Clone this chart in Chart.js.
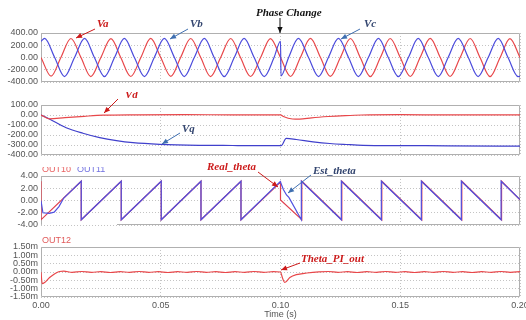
<!DOCTYPE html>
<html><head><meta charset="utf-8">
<script src="https://cdn.jsdelivr.net/npm/chart.js@4.4.1/dist/chart.umd.min.js"></script>
<style>
html,body{margin:0;padding:0;background:#fff;}
#wrap{position:relative;width:526px;height:320px;overflow:hidden;background:#fff;}
canvas{position:absolute;left:0;}
</style></head><body>
<div id="wrap">
<canvas id="c1" width="526" height="92" style="top:0px"></canvas>
<canvas id="c2" width="526" height="68" style="top:92px"></canvas>
<canvas id="c3" width="526" height="76" style="top:160px"></canvas>
<canvas id="c4" width="526" height="84" style="top:236px"></canvas>
</div>
<script>
// ---------- data (time in s) ----------
const timeTicks = [0, 0.05, 0.1, 0.15, 0.2];
const p1Ticks = [400, 200, 0, -200, -400];
const p2Ticks = [100, 0, -100, -200, -300, -400];
const p3Ticks = [4, 2, 0, -2, -4];
const p4Ticks = [1.5, 1, 0.5, 0, -0.5, -1, -1.5];

const va = [[0,0],[0.0042,-305],[0.0083,0],[0.0125,310],[0.0167,0],[0.0208,-312],[0.025,0],[0.0292,308],[0.0333,0],[0.0375,-310],[0.0417,0],[0.0458,312],[0.05,0],[0.0542,-308],[0.0583,0],[0.0625,310],[0.0667,0],[0.0708,-312],[0.075,0],[0.0792,310],[0.0833,0],[0.0875,-310],[0.0917,0],[0.0958,308],[0.1,0],[0.1042,-310],[0.1083,0],[0.1125,312],[0.1167,0],[0.1208,-308],[0.125,0],[0.1292,310],[0.1333,0],[0.1375,-312],[0.1417,0],[0.1458,310],[0.15,0],[0.1542,-310],[0.1583,0],[0.1625,312],[0.1667,0],[0.1708,-310],[0.175,0],[0.1792,310],[0.1833,0],[0.1875,-312],[0.1917,0],[0.1958,308],[0.2,0]];

const vb = [[0,263],[0.0015,311],[0.0057,0],[0.0098,-311],[0.014,0],[0.0182,311],[0.0223,0],[0.0265,-311],[0.0307,0],[0.0348,311],[0.039,0],[0.0432,-311],[0.0473,0],[0.0515,311],[0.0557,0],[0.0598,-311],[0.064,0],[0.0682,311],[0.0723,0],[0.0765,-311],[0.0807,0],[0.0848,311],[0.089,0],[0.0932,-311],[0.0973,0],[0.1,265],[0.1002,-300],[0.1034,0],[0.1075,311],[0.1117,0],[0.1159,-311],[0.12,0],[0.1242,311],[0.1284,0],[0.1325,-311],[0.1367,0],[0.1409,311],[0.145,0],[0.1492,-311],[0.1534,0],[0.1575,311],[0.1617,0],[0.1659,-311],[0.17,0],[0.1742,311],[0.1784,0],[0.1825,-311],[0.1867,0],[0.1909,311],[0.195,0],[0.1992,-311],[0.2,-308]];

const vd = [[0,0],[0.0035,-38],[0.01,-26],[0.018,-13],[0.026,-2],[0.04,2],[0.06,3],[0.08,2],[0.1,2],[0.1012,-15],[0.105,-40],[0.108,-42],[0.113,-28],[0.12,-15],[0.127,-6],[0.134,0],[0.15,3],[0.17,1],[0.2,1]];

const vq = [[0,0],[0.0035,-40],[0.0105,-127],[0.0175,-183],[0.0245,-227],[0.0315,-257],[0.0384,-277],[0.0496,-293],[0.066,-303],[0.08,-305],[0.0914,-306],[0.1003,-306],[0.1024,-234],[0.1066,-245],[0.1136,-268],[0.1206,-285],[0.1275,-295],[0.1345,-303],[0.15,-306],[0.17,-308],[0.2,-312]];

const estTheta = [[0,0],[0.0008,-2.0],[0.0035,-2.1],[0.0055,-1.9],[0.0075,-1.0],[0.0095,0.4],[0.0168,3.14],[0.0168,-3.14],[0.0335,3.14],[0.0335,-3.14],[0.0502,3.14],[0.0502,-3.14],[0.0668,3.14],[0.0668,-3.14],[0.0835,3.14],[0.0835,-3.14],[0.0999,3.1],[0.1012,1.8],[0.1025,0.9],[0.1035,0.5],[0.1087,-3.14],[0.1087,3.14],[0.1254,-3.14],[0.1254,3.14],[0.1421,-3.14],[0.1421,3.14],[0.1588,-3.14],[0.1588,3.14],[0.1755,-3.14],[0.1755,3.14],[0.1921,-3.14],[0.1921,3.14],[0.2,0.15]];

const realTheta = [[0,3.14],[0,-3.14],[0.0168,3.14],[0.0168,-3.14],[0.0335,3.14],[0.0335,-3.14],[0.0502,3.14],[0.0502,-3.14],[0.0668,3.14],[0.0668,-3.14],[0.0835,3.14],[0.0835,-3.14],[0.1,3.0],[0.1,0.1],[0.1089,-3.14],[0.1089,3.14],[0.1256,-3.14],[0.1256,3.14],[0.1423,-3.14],[0.1423,3.14],[0.159,-3.14],[0.159,3.14],[0.1757,-3.14],[0.1757,3.14],[0.1923,-3.14],[0.1923,3.14],[0.2,0.1]];

const thetaPI = [[0,0],[0.0005,-0.7],[0.0015,-0.63],[0.0036,-0.33],[0.0056,-0.12],[0.0077,0.03],[0.0095,0.05],[0.013,-0.02],[0.017,0.03],[0.021,-0.02],[0.025,0.02],[0.029,-0.03],[0.033,0.02],[0.037,-0.02],[0.041,0.03],[0.045,-0.02],[0.049,0.02],[0.053,-0.03],[0.057,0.02],[0.061,-0.02],[0.065,0.03],[0.069,-0.02],[0.073,0.02],[0.077,-0.03],[0.081,0.02],[0.085,-0.02],[0.089,0.03],[0.093,-0.02],[0.097,0.02],[0.1,0.0],[0.1008,-0.35],[0.1018,-0.63],[0.1039,-0.33],[0.1066,-0.16],[0.111,-0.06],[0.116,0.01],[0.12,0.03],[0.124,-0.02],[0.128,0.02],[0.132,-0.03],[0.136,0.02],[0.14,-0.02],[0.144,0.03],[0.148,-0.02],[0.152,0.02],[0.156,-0.03],[0.16,0.02],[0.164,-0.02],[0.168,0.03],[0.172,-0.02],[0.176,0.02],[0.18,-0.03],[0.184,0.02],[0.188,-0.02],[0.192,0.03],[0.196,-0.02],[0.2,0.02]];

// ---------- style ----------
const SANS = '"Liberation Sans", Arial, sans-serif';
const SERIF = 'italic bold 11px "Liberation Serif", "Times New Roman", serif';
const RED = '#e8474a', BLUE = '#4b4bdc';
const NOTE_RED = '#cc1a1a', NOTE_BLUE = '#33456f', ARROW_BLUE = '#3f6fb0';
const TICK = '#555', GRID = '#c4c4c4', BOX = '#b0b0b0';

function drawArrow(ctx, x1, y1, x2, y2, color) {
  ctx.strokeStyle = color; ctx.fillStyle = color; ctx.lineWidth = 1;
  ctx.beginPath(); ctx.moveTo(x1, y1); ctx.lineTo(x2, y2); ctx.stroke();
  const a = Math.atan2(y2 - y1, x2 - x1), L = 6, W = 2.6;
  ctx.beginPath(); ctx.moveTo(x2, y2);
  ctx.lineTo(x2 - L*Math.cos(a) + W*Math.sin(a), y2 - L*Math.sin(a) - W*Math.cos(a));
  ctx.lineTo(x2 - L*Math.cos(a) - W*Math.sin(a), y2 - L*Math.sin(a) + W*Math.cos(a));
  ctx.closePath(); ctx.fill();
}

const frame = {
  id: 'frame',
  beforeDatasetsDraw(chart, args, o) {
    const {ctx, chartArea: a} = chart;
    const L = Math.round(a.left) + 0.5, R = Math.round(a.right) - 0.5;
    const T = Math.round(a.top) + 0.5, B = Math.round(a.bottom) - 0.5;
    ctx.save(); ctx.strokeStyle = BOX; ctx.lineWidth = 1; ctx.setLineDash([]);
    ctx.beginPath();
    ctx.moveTo(L, B); ctx.lineTo(L, T); ctx.lineTo(R, T); ctx.lineTo(R, B);
    ctx.lineTo(o && o.bottomStart ? o.bottomStart : L, B);
    ctx.stroke(); ctx.restore();
  }
};

const notes = {
  id: 'notes',
  afterDatasetsDraw(chart, args, o) {
    const ctx = chart.ctx, dy = o.top || 0;
    ctx.save();
    (o.items || []).forEach(n => {
      if (n.arrow) drawArrow(ctx, n.arrow[0], n.arrow[1] - dy, n.arrow[2], n.arrow[3] - dy, n.ac || n.color);
      if (n.text) {
        ctx.font = n.font || SERIF; ctx.fillStyle = n.color;
        ctx.textAlign = 'left'; ctx.textBaseline = 'alphabetic';
        if (n.clip) {
          ctx.save(); ctx.beginPath(); ctx.rect(0, n.clip - dy, 526, 200); ctx.clip();
          ctx.fillText(n.text, n.x, n.y - dy); ctx.restore();
        } else ctx.fillText(n.text, n.x, n.y - dy);
      }
    });
    ctx.restore();
  }
};

const ds = (pairs, color, extra) => Object.assign({
  data: pairs.map(p => ({x: p[0], y: p[1]})),
  borderColor: color, borderWidth: 1.2, pointRadius: 0, fill: false, tension: 0
}, extra || {});

function panel(id, top, padTop, padBottom, yMin, yMax, yTicks, fmt, datasets, items, frameOpts, showX) {
  const xScale = {
    type: 'linear', min: 0, max: 0.2,
    afterBuildTicks: s => { s.ticks = timeTicks.map(v => ({value: v})); },
    grid: {color: GRID, drawTicks: false, lineWidth: 1},
    border: {display: false, dash: [1, 2]},
    ticks: {display: !!showX, autoSkip: false, maxRotation: 0, padding: 3, color: TICK,
            font: {family: SANS, size: 9}, callback: v => Number(v).toFixed(2)},
    afterFit: s => { s.height = showX ? 23 : 0; s.paddingLeft = 0; s.paddingRight = 0; }
  };
  if (showX) xScale.title = {display: true, text: 'Time (s)', color: TICK, font: {family: SANS, size: 9}, padding: 0};
  return new Chart(document.getElementById(id), {
    type: 'line',
    data: {datasets},
    options: {
      responsive: false, animation: false, devicePixelRatio: 1,
      layout: {padding: {top: padTop, bottom: padBottom, left: 0, right: 6}},
      plugins: {legend: {display: false}, tooltip: {enabled: false},
                notes: {top, items}, frame: frameOpts || {}},
      scales: {
        x: xScale,
        y: {
          min: yMin, max: yMax,
          afterBuildTicks: s => { s.ticks = yTicks.map(v => ({value: v})); },
          grid: {color: GRID, drawTicks: false, lineWidth: 1},
          border: {display: false, dash: [1, 2]},
          ticks: {autoSkip: false, padding: 3, color: TICK, font: {family: SANS, size: 9}, callback: fmt},
          afterFit: s => { s.width = 41; s.paddingTop = 0; s.paddingBottom = 0; }
        }
      }
    },
    plugins: [frame, notes]
  });
}

// Panel 1: phase voltages
panel('c1', 0, 33, 10, -400, 400, p1Ticks, v => v.toFixed(2), [
  ds(vb, BLUE, {cubicInterpolationMode: 'monotone'}),
  ds(va, RED, {cubicInterpolationMode: 'monotone'})
], [
  {text: 'Va', x: 97, y: 27, color: NOTE_RED, arrow: [95, 29, 76, 38]},
  {text: 'Vb', x: 190, y: 27, color: NOTE_BLUE, ac: ARROW_BLUE, arrow: [188, 29, 170, 39]},
  {text: 'Vc', x: 364, y: 27, color: NOTE_BLUE, ac: ARROW_BLUE, arrow: [360, 29, 341, 39]},
  {text: 'Phase Change', x: 256, y: 16, color: '#111', arrow: [280, 18, 280, 33]}
]);

// Panel 2: Vd / Vq
panel('c2', 92, 13, 5, -400, 100, p2Ticks, v => v.toFixed(2), [
  ds(vd, RED, {cubicInterpolationMode: 'monotone'}),
  ds(vq, '#4040cc', {cubicInterpolationMode: 'monotone'})
], [
  {text: 'Vd', x: 125, y: 98, color: NOTE_RED, arrow: [118, 99, 104, 113]},
  {text: 'Vq', x: 182, y: 132, color: NOTE_BLUE, ac: ARROW_BLUE, arrow: [180, 133, 162, 144]}
]);

// Panel 3: real / estimated theta
panel('c3', 160, 16, 11, -4, 4, p3Ticks, v => v.toFixed(2), [
  ds(estTheta, '#5050e0'),
  ds(realTheta, '#e0404e')
], [
  {text: 'OUT10', x: 42, y: 172, color: '#e86060', font: '9px ' + SANS, clip: 167},
  {text: 'OUT11', x: 77, y: 172, color: '#7070e0', font: '9px ' + SANS, clip: 167},
  {text: 'Real_theta', x: 207, y: 170, color: NOTE_RED, arrow: [258, 172, 278, 187]},
  {text: 'Est_theta', x: 313, y: 174, color: NOTE_BLUE, ac: ARROW_BLUE, arrow: [311, 175, 288, 193]}
], {bottomStart: 117});

// Panel 4: PI output
panel('c4', 236, 11, 0, -1.5, 1.5, p4Ticks, v => v.toFixed(2) + 'm', [
  ds(thetaPI, RED, {cubicInterpolationMode: 'monotone'})
], [
  {text: 'OUT12', x: 42, y: 243, color: '#e05a5a', font: '9px ' + SANS},
  {text: 'Theta_PI_out', x: 301, y: 262, color: NOTE_RED, arrow: [300, 263, 281, 270]}
], {}, true);
</script>
</body></html>
